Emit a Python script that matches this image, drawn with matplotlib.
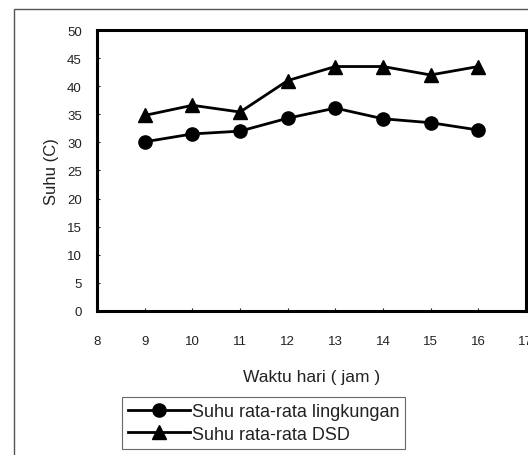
import matplotlib
matplotlib.use('Agg')
from matplotlib import pyplot as plt
from matplotlib.patches import Rectangle

# hourly average temperatures
jam = [9, 10, 11, 12, 13, 14, 15, 16]
suhu_lingkungan = [30.1, 31.5, 32.0, 34.3, 36.1, 34.2, 33.5, 32.2]
suhu_dsd = [34.8, 36.6, 35.4, 41.0, 43.5, 43.5, 42.0, 43.5]
xticks = list(range(8, 18))
yticks = list(range(0, 55, 5))

plt.rcParams['font.family'] = ['Liberation Sans Narrow', 'Liberation Sans', 'DejaVu Sans']

fig = plt.figure(figsize=(5.28, 4.56), dpi=100)
ax = fig.add_axes([0.184, 0.316, 0.812, 0.616])

ax.plot(jam, suhu_lingkungan, color='black', lw=2.0, marker='o', ms=9.5,
        label='Suhu rata-rata lingkungan')
ax.plot(jam, suhu_dsd, color='black', lw=2.0, marker='^', ms=10.5,
        label='Suhu rata-rata DSD')

ax.set_xlim(8, 17)
ax.set_ylim(0, 50)
ax.set_xticks(xticks)
ax.set_yticks(yticks)
ax.tick_params(direction='in', length=2, width=0.8, labelsize=9.5, colors='#222222', pad=11)
ax.tick_params(axis='x', pad=17)
for s in ax.spines.values():
    s.set_linewidth(2.2)

ax.set_xlabel('Waktu hari ( jam )', fontsize=12.5, color='#222222', labelpad=16)
ax.set_ylabel('Suhu (C)', fontsize=12, color='#222222', labelpad=6)

# thin outer frame
fig.add_artist(Rectangle((14 / 528, -0.1), 1.2, 1.1 - 10 / 456, transform=fig.transFigure,
                         fill=False, lw=1.0, ec='#555555'))

leg = fig.legend(loc='upper left', bbox_to_anchor=(122 / 528, 1 - 398 / 456),
                 frameon=True, fancybox=False, edgecolor='#444444', fontsize=13,
                 handlelength=3.4, handletextpad=0.1, borderpad=0.35, labelspacing=0.3,
                 borderaxespad=0)
leg.get_frame().set_linewidth(0.8)
for t in leg.get_texts():
    t.set_color('#222222')

fig.savefig('out.png', dpi=100)
